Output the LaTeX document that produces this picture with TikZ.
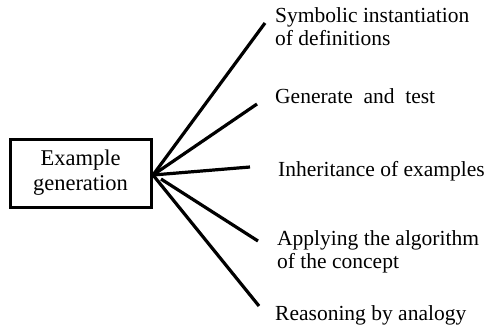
\documentclass[tikz,border=0pt]{standalone}
\usepackage{fontspec}
\setmainfont{Liberation Serif}
\begin{document}
\begin{tikzpicture}[x=1pt,y=-1pt,
  every node/.style={font=\fontsize{21.5}{23}\selectfont},
  genbox/.style={draw,line width=3pt,minimum width=141pt,minimum height=68pt,
    align=center,inner sep=0pt},
  branch/.style={line width=3.2pt,line cap=butt},
  leaf/.style={anchor=base west,align=left,inner sep=0pt}]
\useasboundingbox (0,0) rectangle (486,330);

% central box
\node[genbox,font=\fontsize{22.5}{25}\selectfont] (gen) at (80.5,173) {Example\\generation};
\coordinate (hub) at (153,175);
\coordinate (hub2) at (161,179);

% branch ends
\coordinate (e1) at (265,23);
\coordinate (e2) at (257,104);
\coordinate (e3) at (250,167);
\coordinate (e4) at (258,241);
\coordinate (e5) at (259,306);

\draw[branch] (hub) -- (e1);
\draw[branch] (hub) -- (e2);
\draw[branch] (hub) -- (e3);
\draw[branch] (hub2) -- (e4);
\draw[branch] (hub) -- (e5);

% labels (base anchor sits on the last line)
\node[leaf] (l1) at (275,45) {Symbolic instantiation\\of definitions};
\node[leaf] (l2) at (275,103) {Generate\ \ and\ \ test};
\node[leaf] (l3) at (278,176) {Inheritance of examples};
\node[leaf] (l4) at (277,268) {Applying the algorithm\\of the concept};
\node[leaf] (l5) at (275,320) {Reasoning by analogy};
\end{tikzpicture}
\end{document}
